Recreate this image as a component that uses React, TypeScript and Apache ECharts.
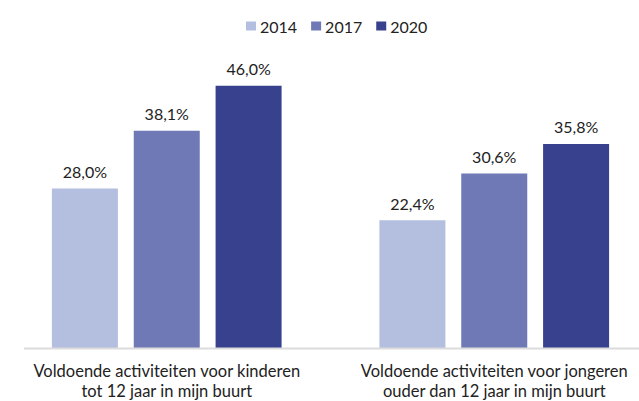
import React, { useEffect, useRef } from "react";
import * as echarts from "echarts";

const categories = [
  "Voldoende activiteiten voor kinderen\ntot 12 jaar in mijn buurt",
  "Voldoende activiteiten voor jongeren\nouder dan 12 jaar in mijn buurt",
];
const seriesNames = ["2014", "2017", "2020"];
const values2014 = [28.0, 22.4];
const values2017 = [38.1, 30.6];
const values2020 = [46.0, 35.8];
const colors = ["#b4bfe0", "#6f79b5", "#37418d"];

const fmt = (v: number) => v.toFixed(1).replace(".", ",") + "%";

export default function App() {
  const ref = useRef<HTMLDivElement>(null);
  useEffect(() => {
    if (!ref.current) return;
    const chart = echarts.init(ref.current, null, { renderer: "svg" });
    const font = "Lato, 'Open Sans', sans-serif";
    const data = [values2014, values2017, values2020];
    chart.setOption({
      animation: false,
      textStyle: { fontFamily: font },
      legend: {
        data: seriesNames,
        left: 241,
        top: 13,
        itemWidth: 10,
        itemHeight: 9,
        itemGap: 14,
        icon: "rect",
        textStyle: { fontSize: 16, color: "#222", fontFamily: font, padding: [0, 0, 0, -1] },
      },
      grid: { left: 3, width: 655, top: 63, bottom: 53, containLabel: false },
      xAxis: {
        type: "category",
        data: categories,
        axisLine: { show: false },
        axisTick: { show: false },
        axisLabel: {
          fontSize: 16.5,
          color: "#222",
          lineHeight: 20,
          margin: 13,
          fontFamily: font,
          interval: 0,
        },
      },
      yAxis: {
        type: "value",
        min: 0,
        max: 50,
        show: false,
        splitLine: { show: false },
      },
      graphic: [
        {
          type: "line",
          shape: { x1: 24, y1: 348.5, x2: 639, y2: 348.5 },
          style: { stroke: "#dcdcdc", lineWidth: 2 },
          z: 10,
        },
      ],
      series: seriesNames.map((name, i) => ({
        name,
        type: "bar",
        data: data[i],
        barWidth: 66,
        barGap: "24%",
        itemStyle: { color: colors[i] },
        label: {
          show: true,
          position: "top",
          distance: 9,
          fontSize: 16,
          color: "#222",
          fontFamily: font,
          formatter: (p: any) => fmt(p.value),
        },
      })),
    });
    return () => chart.dispose();
  }, []);
  return (
    <div
      style={{ position: "fixed", left: 0, top: 0, width: 639, height: 401, overflow: "hidden", background: "#fff" }}
    >
      <div ref={ref} style={{ width: 660, height: 401 }} />
    </div>
  );
}
